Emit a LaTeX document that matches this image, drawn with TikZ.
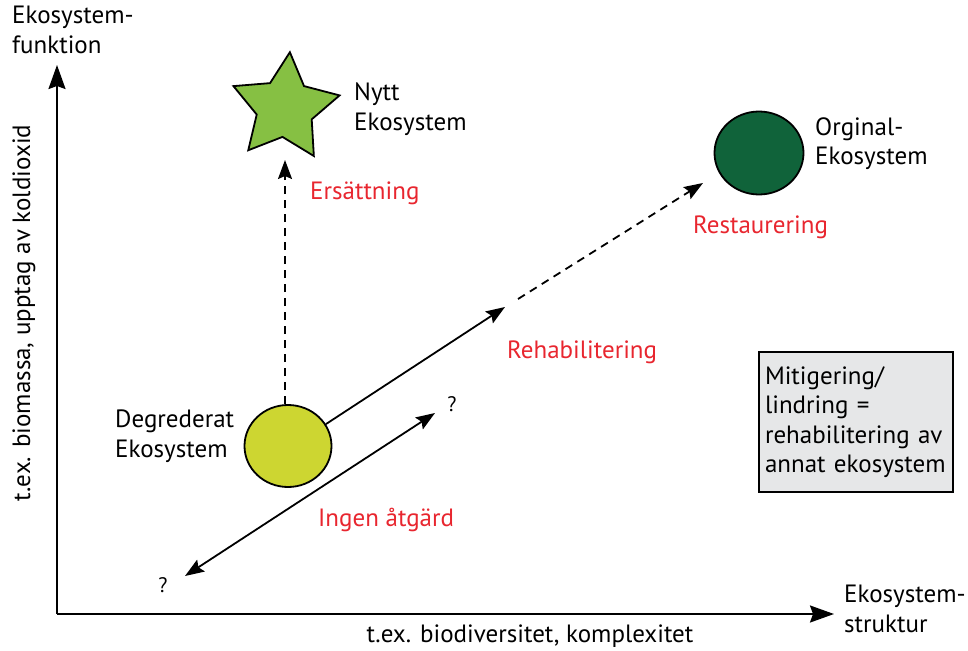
\documentclass[tikz,border=0pt]{standalone}
\usepackage{fontspec}
\setmainfont{PT Sans}
\usetikzlibrary{shapes.geometric}
\usetikzlibrary{arrows.meta}
\usepackage{xcolor}
\definecolor{gulgron}{RGB}{205,214,49}
\definecolor{ljusgron}{RGB}{134,192,67}
\definecolor{morkgron}{RGB}{16,99,58}
\definecolor{rod}{RGB}{232,38,47}
\definecolor{ljusgra}{RGB}{230,231,232}

\begin{document}
\begin{tikzpicture}[x=1pt, y=-1pt, font=\fontsize{25}{29.5}\selectfont]
        % ================= 样式定义 =================
        \tikzset{
            eko/.style={ellipse, draw=black, line width=1.8pt, inner sep=0pt},
            axel/.style={line width=2pt, -{Stealth[length=24pt, width=17pt, inset=3pt]}},
            pil/.style={line width=1.8pt, -{Stealth[length=19pt, width=14pt, inset=3pt]}},
            dubbelpil/.style={line width=1.8pt, {Stealth[length=19pt, width=14pt, inset=3pt]}-{Stealth[length=19pt, width=14pt, inset=3pt]}},
            streck/.style={dash pattern=on 8pt off 6pt},
            etikett/.style={text=rod, anchor=base west, inner sep=0pt},
            txt/.style={align=left, anchor=north west, inner sep=0pt},
            fraga/.style={inner sep=0pt, font=\fontsize{21}{24}\selectfont}
        }
        \useasboundingbox (0,0) rectangle (968,650);

        % ================= 坐标轴 =================
        \coordinate (origo) at (57,614);
        \coordinate (ytopp) at (57,65);
        \coordinate (xslut) at (834,614);
        \draw[axel] (origo) -- (ytopp);
        \draw[axel] (origo) -- (xslut);

        \node[txt] (yrubrik) at (12,6) {Ekosystem-\\funktion};
        \node[txt] (xrubrik) at (844,585) {Ekosystem-\\struktur};
        \node[rotate=90, inner sep=0pt] (ytext) at (24,313) {t.ex. biomassa, upptag av koldioxid};
        \node[anchor=base, inner sep=0pt] (xtext) at (530,642) {t.ex. biodiversitet, komplexitet};

        % ================= 生态系统 =================
        \node[eko, fill=gulgron, minimum width=87pt, minimum height=82pt] (degr) at (288,446) {};
        \node[eko, fill=morkgron, minimum width=89pt, minimum height=83pt] (orig) at (759,153) {};
        \node[star, star points=5, star point ratio=1.93, minimum size=112pt,
              draw=black, line width=1.8pt, fill=ljusgron, inner sep=0pt, rotate=-5] (nytt) at (285,108) {};

        \node[txt] (degrtext) at (115,410) {Degrederat\\Ekosystem};
        \node[txt] (origtext) at (815,117) {Orginal-\\Ekosystem};
        \node[txt] (nytttext) at (354,83) {Nytt\\Ekosystem};

        % ================= 箭头 =================
        % 替代:虚线向上
        \coordinate (ers) at (285,160);
        \draw[pil, streck] (degr.north -| ers) -- (ers);

        % 复原:先实线,后虚线
        \coordinate (rehab) at (505,307);
        \coordinate (rest0) at (518,299);
        \coordinate (rest) at (703,183);
        \draw[pil] (degr.30) -- (rehab);
        \draw[pil, streck] (rest0) -- (rest);

        % 不采取措施:双向
        \coordinate (ia1) at (185,576);
        \coordinate (ia2) at (435,413);
        \draw[dubbelpil] (ia1) -- (ia2);
        \node[fraga] (fr1) at (163,585) {?};
        \node[fraga] (fr2) at (452,404) {?};

        % ================= 标签 =================
        \node[etikett] (lers) at (310,199) {Ersättning};
        \node[etikett] (lrest) at (693,233) {Restaurering};
        \node[etikett] (lrehab) at (507,358) {Rehabilitering};
        \node[etikett] (lingen) at (318,526) {Ingen åtgärd};

        % ================= 说明框 =================
        \node[draw=black, line width=1.5pt, fill=ljusgra, minimum width=194pt, minimum height=140pt,
              text width=182pt, align=left, inner sep=6pt] (ruta) at (856,422)
              {Mitigering/\\lindring =\\rehabilitering av\\annat ekosystem};

    \end{tikzpicture}
\end{document}
